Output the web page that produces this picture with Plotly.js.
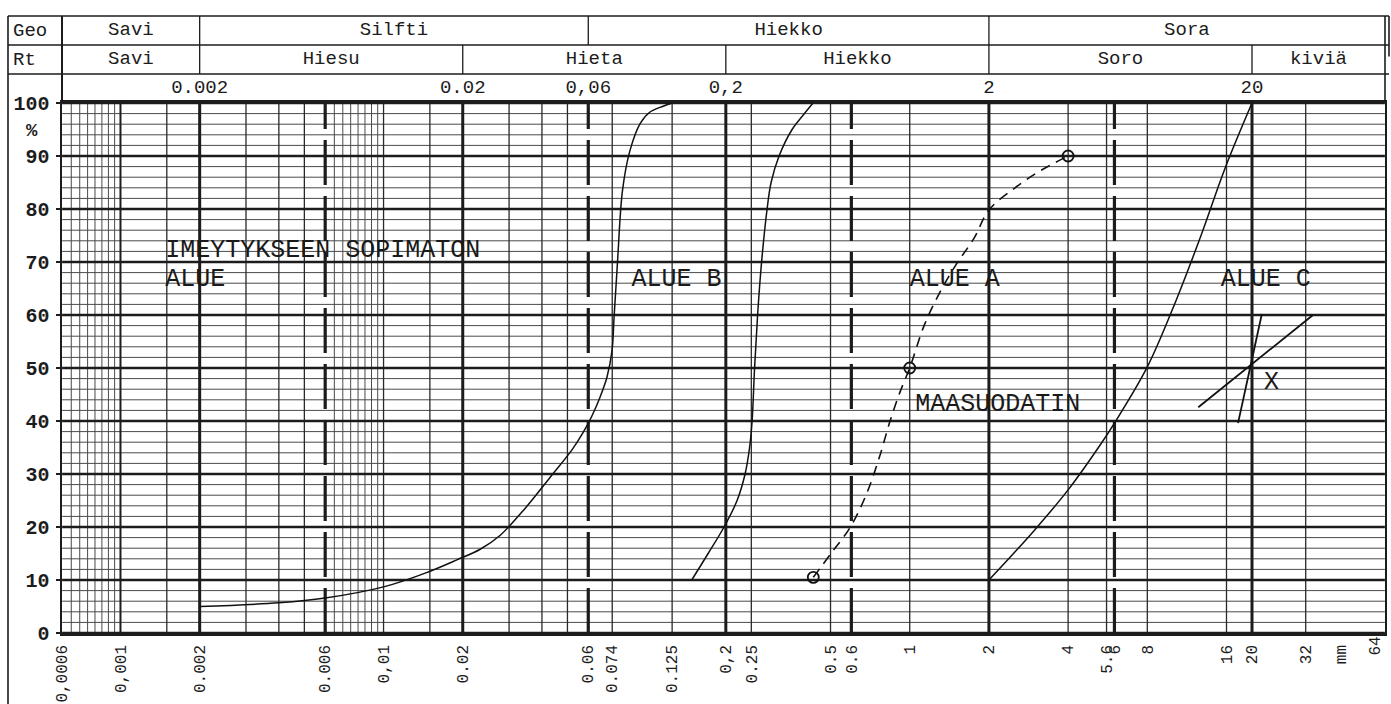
<!DOCTYPE html>
<html><head><meta charset="utf-8">
<script src="https://cdn.plot.ly/plotly-3.0.1.min.js"></script>
<style>html,body{margin:0;padding:0;background:#fff;}#chart{width:1391px;height:704px;}</style>
</head><body><div id="chart"></div>
<script>
// ---------------- data ----------------
// grain size (mm) / passing (%)
const imeyX = [0.002, 0.004, 0.006, 0.01, 0.0144, 0.019, 0.0233, 0.0277, 0.0345, 0.043, 0.0521, 0.0573, 0.062, 0.0665, 0.0707, 0.0739, 0.0752, 0.0775, 0.081, 0.0865, 0.0947, 0.103, 0.1155, 0.125];
const imeyY = [5, 5.7, 6.6, 8.7, 11.3, 13.8, 15.8, 18.4, 23.5, 29.4, 34.6, 37.8, 41, 44.5, 48.3, 53.4, 59.6, 70, 83.6, 91.1, 96.2, 98.3, 99.4, 100];

const alueBX = [0.1484, 0.1713, 0.1969, 0.2207, 0.2367, 0.2462, 0.2517, 0.2572, 0.2641, 0.2735, 0.2870, 0.2972, 0.3187, 0.3571, 0.3932, 0.4291];
const alueBY = [10, 15, 20, 25, 30, 35, 40, 50, 60, 70, 80, 85, 90, 95, 97.7, 100];

const filterX = [0.43, 0.502, 0.595, 0.682, 0.765, 0.842, 0.919, 1.0, 1.134, 1.293, 1.50, 1.757, 2.0, 2.514, 3.157, 4.0];
const filterY = [10.5, 15, 20, 26, 33, 40, 45.5, 50, 58, 64, 69.5, 74.5, 79.8, 84, 87.3, 90];
const filterPointX = [0.43, 1, 4];
const filterPointY = [10.5, 50, 90];

const alueCX = [2.0, 2.48, 2.98, 4.0, 5.35, 6.0, 8.0, 10.3, 12.8, 15.8, 20];
const alueCY = [10, 15, 19.4, 27, 35.8, 39.6, 50.2, 62.8, 75, 87.7, 100];

const xLineAX = [17.7, 21.8];
const xLineAY = [39.6, 60.2];
const xLineBX = [12.5, 34.1];
const xLineBY = [42.6, 60];

// axis ticks
const xTickVals = [0.0006, 0.001, 0.002, 0.006, 0.01, 0.02, 0.06, 0.074, 0.125, 0.2, 0.25, 0.5, 0.6, 1, 2, 4, 5.6, 6, 8, 16, 20, 32, 43.5];
const xTickText = ['0,0006', '0,001', '0.002', '0.006', '0,01', '0.02', '0.06', '0.074', '0.125', '0,2', '0.25', '0.5', '0.6', '1', '2', '4', '5.6', '6', '8', '16', '20', '32', 'mm'];
const xEndLabel = '64';
const yTickVals = [0, 10, 20, 30, 40, 50, 60, 70, 80, 90, 100];
const yTickText = ['0', '10', '20', '30', '40', '50', '60', '70', '80', '90', '100'];

// grid lines (mm / %)
const heavyV = [0.002, 0.02, 0.2, 2, 20];
const mediumV = [0.001];
const dashedV = [0.006, 0.06, 0.6, 6];
const thinV = [0.0015, 0.003, 0.004, 0.005, 0.01, 0.015, 0.03, 0.04, 0.05, 0.074, 0.125, 0.25, 0.5, 1, 4, 5.6, 8, 16, 32];
const denseV = [0.00065, 0.0007, 0.00075, 0.0008, 0.00085, 0.0009, 0.00095, 0.0065, 0.007, 0.0075, 0.008, 0.0085, 0.009, 0.0095];
const heavyH = [0, 10, 20, 30, 40, 50, 60, 70, 80, 90, 100];
const thinH = [2, 4, 6, 8, 12, 14, 16, 18, 22, 24, 26, 28, 32, 34, 36, 38, 42, 44, 46, 48, 52, 54, 56, 58, 62, 64, 66, 68, 72, 74, 76, 78, 82, 84, 86, 88, 92, 94, 96, 98];

// header table
const geoLabels = ['Savi', 'Silfti', 'Hiekko', 'Sora'];
const geoBounds = [0.0006, 0.002, 0.06, 2, 64];
const rtLabels = ['Savi', 'Hiesu', 'Hieta', 'Hiekko', 'Soro', 'kiviä'];
const rtBounds = [0.0006, 0.002, 0.02, 0.2, 2, 20, 64];
const sizeRowLabels = ['0.002', '0.02', '0,06', '0,2', '2', '20'];
const sizeRowVals = [0.002, 0.02, 0.06, 0.2, 2, 20];

// area labels
const areaLabels = ['IMEYTYKSEEN SOPIMATON', 'ALUE', 'ALUE B', 'ALUE A', 'MAASUODATIN', 'ALUE C', 'X'];
const areaLabelX = [0.00148, 0.00148, 0.0875, 1.0, 1.05, 15.2, 22.2];
const areaLabelY = [72.2, 66.6, 66.6, 66.6, 43, 66.6, 47.2];

// ---------------- layout constants ----------------
const W = 1391, H = 704, ML = 62, MR = 6, MT = 16, MB = 71;
const plotW = W - ML - MR, plotH = H - MT - MB;
const plotTopPx = 103, plotBottomPx = H - MB;
const mainTop = (plotBottomPx - plotTopPx) / plotH;
const xMin = 0.0006, xMax = 64;
const ink = '#1c1c1c', gridInk = '#4a4a4a';
const mono = 'Liberation Mono, DejaVu Sans Mono, monospace';
function pxX(px) { return (px - ML) / plotW; }
function pxY(py) { return (plotBottomPx - py) / plotH; }

function vSegs(vals, y0, y1) { const x = [], y = []; vals.forEach(v => { x.push(v, v, null); y.push(y0, y1, null); }); return {x, y}; }
function hSegs(vals) { const x = [], y = []; vals.forEach(v => { x.push(xMin, xMax, null); y.push(v, v, null); }); return {x, y}; }
function lineTrace(seg, color, width, dash, yaxis) {
  return {x: seg.x, y: seg.y, mode: 'lines', type: 'scatter', yaxis: yaxis || 'y', hoverinfo: 'skip', showlegend: false,
    line: {color: color, width: width, dash: dash || 'solid'}, connectgaps: false};
}

const traces = [];
traces.push(lineTrace(hSegs(thinH), gridInk, 1));
traces.push(lineTrace(vSegs(denseV, 0, 100), gridInk, 1));
traces.push(lineTrace(vSegs(thinV, 0, 100), '#2a2a2a', 1.3));
traces.push(lineTrace(hSegs(heavyH), ink, 2.6));
traces.push(lineTrace(vSegs(mediumV, 0, 100), ink, 2));
traces.push(lineTrace(vSegs(heavyV, 0, 100), ink, 3));
traces.push(lineTrace(vSegs(dashedV, 0, 100), ink, 3.2, '45px,11px'));

// header separators (y2 axis: rows 0-1 numbers, 1-2 Rt, 2-3 Geo)
traces.push(lineTrace(vSegs(geoBounds.slice(1, -1), 2, 3), ink, 1.3, 'solid', 'y2'));
traces.push(lineTrace(vSegs(rtBounds.slice(1, -1), 1, 2), ink, 1.3, 'solid', 'y2'));

function mids(b) { const m = []; for (let i = 0; i < b.length - 1; i++) m.push(Math.sqrt(b[i] * b[i + 1])); return m; }
const hdrFont = {family: mono, size: 19, color: ink};
traces.push({x: mids(geoBounds), y: geoLabels.map(() => 2.5), yaxis: 'y2', text: geoLabels, mode: 'text', type: 'scatter', textfont: hdrFont, hoverinfo: 'skip', showlegend: false, cliponaxis: false});
traces.push({x: mids(rtBounds), y: rtLabels.map(() => 1.5), yaxis: 'y2', text: rtLabels, mode: 'text', type: 'scatter', textfont: hdrFont, hoverinfo: 'skip', showlegend: false, cliponaxis: false});
traces.push({x: sizeRowVals, y: sizeRowVals.map(() => 0.5), yaxis: 'y2', text: sizeRowLabels, mode: 'text', type: 'scatter', textfont: hdrFont, hoverinfo: 'skip', showlegend: false, cliponaxis: false});

// curves
const curveLine = {color: '#111', width: 1.5, shape: 'spline', smoothing: 1};
traces.push({x: imeyX, y: imeyY, mode: 'lines', type: 'scatter', line: curveLine, hoverinfo: 'skip', showlegend: false});
traces.push({x: alueBX, y: alueBY, mode: 'lines', type: 'scatter', line: curveLine, hoverinfo: 'skip', showlegend: false});
traces.push({x: alueCX, y: alueCY, mode: 'lines', type: 'scatter', line: curveLine, hoverinfo: 'skip', showlegend: false});
traces.push({x: filterX, y: filterY, mode: 'lines', type: 'scatter', line: {color: '#111', width: 1.6, dash: '10px,7px', shape: 'spline', smoothing: 1}, hoverinfo: 'skip', showlegend: false});
traces.push({x: filterPointX, y: filterPointY, mode: 'markers', type: 'scatter', marker: {symbol: 'circle-open', size: 11, color: '#111', line: {width: 1.8, color: '#111'}}, hoverinfo: 'skip', showlegend: false, cliponaxis: false});
traces.push({x: xLineAX, y: xLineAY, mode: 'lines', type: 'scatter', line: {color: '#111', width: 1.8}, hoverinfo: 'skip', showlegend: false});
traces.push({x: xLineBX, y: xLineBY, mode: 'lines', type: 'scatter', line: {color: '#111', width: 1.8}, hoverinfo: 'skip', showlegend: false});

// area labels
traces.push({x: areaLabelX, y: areaLabelY, text: areaLabels, mode: 'text', type: 'scatter', textposition: 'middle right',
  textfont: {family: mono, size: 25, color: '#1a1a1a'}, hoverinfo: 'skip', showlegend: false, cliponaxis: false});

const frameLine = {color: ink, width: 1.6};
const leftX = pxX(8);
const shapes = [
  {type: 'line', xref: 'paper', yref: 'paper', x0: leftX, x1: leftX, y0: pxY(H), y1: 1, line: frameLine},
  {type: 'line', xref: 'paper', yref: 'paper', x0: leftX, x1: pxX(1389), y0: 1, y1: 1, line: frameLine},
  {type: 'line', xref: 'paper', yref: 'y2', x0: leftX, x1: pxX(1389), y0: 2, y1: 2, line: {color: ink, width: 1.3}},
  {type: 'line', xref: 'paper', yref: 'y2', x0: leftX, x1: pxX(1389), y0: 1, y1: 1, line: {color: ink, width: 1.3}},
  {type: 'line', xref: 'paper', yref: 'y2', x0: 0, x1: 0, y0: 0, y1: 3, line: {color: ink, width: 2}},
  {type: 'line', xref: 'paper', yref: 'y2', x0: 1, x1: 1, y0: 0, y1: 3, line: {color: ink, width: 1.6}},
  {type: 'line', xref: 'paper', yref: 'y2', x0: pxX(1389), x1: pxX(1389), y0: 1.6, y1: 3, line: {color: ink, width: 1.6}}
];

const annotations = [
  {xref: 'paper', yref: 'y2', x: pxX(11), y: 2.5, xanchor: 'left', yanchor: 'middle', text: 'Geo', showarrow: false, font: {family: mono, size: 19, color: ink}},
  {xref: 'paper', yref: 'y2', x: pxX(11), y: 1.5, xanchor: 'left', yanchor: 'middle', text: 'Rt', showarrow: false, font: {family: mono, size: 19, color: ink}},
  {xref: 'paper', yref: 'paper', x: pxX(32), y: pxY(131), xanchor: 'center', yanchor: 'middle', text: '%', showarrow: false, font: {family: mono, size: 19, color: ink, weight: 'bold'}},
  {xref: 'paper', yref: 'paper', x: 1, y: pxY(636), xanchor: 'right', yanchor: 'top', textangle: -90, text: xEndLabel, showarrow: false, borderpad: 0, font: {family: mono, size: 16, color: ink}}
];

const pad = 0.0004;
const layout = {
  width: W, height: H,
  margin: {l: ML, r: MR, t: MT, b: MB, pad: 0},
  paper_bgcolor: '#ffffff', plot_bgcolor: '#ffffff',
  showlegend: false, hovermode: false,
  xaxis: {type: 'log', range: [Math.log10(xMin) - pad, Math.log10(xMax) + pad], anchor: 'y', tickmode: 'array', tickvals: xTickVals, ticktext: xTickText,
    tickangle: -90, ticks: '', ticklabelstandoff: 3, tickfont: {family: mono, size: 16, color: ink},
    showgrid: false, zeroline: false, showline: true, mirror: true, linecolor: ink, linewidth: 2.6, fixedrange: true},
  yaxis: {domain: [0, mainTop], range: [0, 100], tickmode: 'array', tickvals: yTickVals, ticktext: yTickText,
    ticks: 'outside', ticklen: 4, tickwidth: 2, tickcolor: ink, ticklabelstandoff: 2,
    tickfont: {family: mono, size: 20, color: ink, weight: 'bold'},
    showgrid: false, zeroline: false, showline: true, mirror: true, linecolor: ink, linewidth: 2.4, fixedrange: true},
  yaxis2: {domain: [mainTop, 1], range: [0, 3], anchor: 'x', visible: false, fixedrange: true},
  shapes: shapes,
  annotations: annotations
};

Plotly.newPlot('chart', traces, layout, {staticPlot: true, displayModeBar: false});
</script>
</body></html>
